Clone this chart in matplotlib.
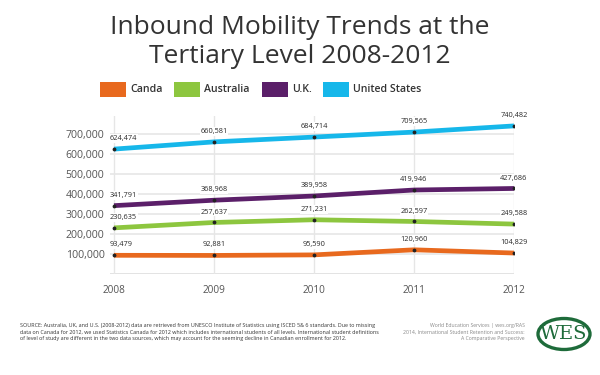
import matplotlib
matplotlib.use('Agg')
import matplotlib.pyplot as plt
from matplotlib.patches import Ellipse, Rectangle

years = [2008, 2009, 2010, 2011, 2012]
canada = [93479, 92881, 95590, 120960, 104829]
australia = [230635, 257637, 271231, 262597, 249588]
uk = [341791, 368968, 389958, 419946, 427686]
us = [624474, 660581, 684714, 709565, 740482]
series_names = ['Canda', 'Australia', 'U.K.', 'United States']
colors = ['#E8691E', '#8DC63F', '#5B1F69', '#16B7EA']
yticks = [100000, 200000, 300000, 400000, 500000, 600000, 700000]

plt.rcParams['font.family'] = ['Open Sans', 'DejaVu Sans']

fig = plt.figure(figsize=(6, 3.75), dpi=100)
fig.patch.set_facecolor('white')

W, H = 600.0, 375.0
ax = fig.add_axes([110/W, 1-274/H, (514-110)/W, (274-116)/H])
ax.set_xlim(2008 - 0.04, 2012)
ax.set_ylim(0, 790000)

for v in yticks:
    ax.axhline(v, color='#e6e6e6', lw=1.2, zorder=0)
ax.axhline(0, color='#e0e0e0', lw=2, zorder=0)
for yr in years:
    ax.axvline(yr, color='#e6e6e6', lw=1, zorder=0)

all_series = [canada, australia, uk, us]
for vals, c in zip(all_series, colors):
    ax.plot(years, vals, color=c, lw=3.4, solid_capstyle='butt', zorder=3)
    ax.scatter(years, vals, s=3, color='#222222', zorder=5)
    for i, (x, v) in enumerate(zip(years, vals)):
        ha = 'left' if i == 0 else 'center'
        dx = -3 if i == 0 else 0
        ax.annotate(f'{v:,}', (x, v), xytext=(dx, 5), textcoords='offset points',
                    ha=ha, va='bottom', fontsize=5.3, color='#2a2a2a', zorder=4,
                    bbox=dict(fc='white', ec='none', pad=0.6))

ax.set_yticks(yticks)
ax.set_yticklabels([f'{v:,}' for v in yticks], fontsize=7.6, color='#555555')
ax.set_xticks(years)
ax.set_xticklabels([str(y) for y in years], fontsize=7.2, color='#555555')
ax.tick_params(length=0)
ax.tick_params(axis='y', pad=4)
ax.tick_params(axis='x', pad=8)
for s in ax.spines.values():
    s.set_visible(False)
ax.patch.set_alpha(0)

# title
fig.text(0.5, 1-42/H, 'Inbound Mobility Trends at the\nTertiary Level 2008-2012',
         ha='center', va='center', fontsize=19, color='#333333', linespacing=1.2)

# legend
leg_x = [100, 174, 262, 323]
for x0, name, c in zip(leg_x, series_names, colors):
    fig.patches.append(Rectangle((x0/W, 1-97/H), 26/W, 15/H, transform=fig.transFigure,
                                 fc=c, ec='none'))
    fig.text((x0+30)/W, 1-90/H, name, ha='left', va='center', fontsize=7.6,
             fontweight='semibold', color='#333333')

# footer
src = ("SOURCE: Australia, UK, and U.S. (2008-2012) data are retrieved from UNESCO Institute of Statistics using ISCED 5& 6 standards. Due to missing\n"
       "data on Canada for 2012, we used Statistics Canada for 2012 which includes international students of all levels. International student definitions\n"
       "of level of study are different in the two data sources, which may account for the seeming decline in Canadian enrollment for 2012.")
fig.text(20/W, 1-332/H, src, ha='left', va='center', fontsize=3.9, color='#333333', linespacing=1.3)
credit = ("World Education Services | wes.org/RAS\n"
          "2014, International Student Retention and Success:\n"
          "A Comparative Perspective")
fig.text(525/W, 1-332/H, credit, ha='right', va='center', fontsize=3.7, color='#888888', linespacing=1.3)

fig.patches.append(Ellipse((564/W, 1-334/H), 52/W, 31/H, transform=fig.transFigure,
                           fc='white', ec='#1E6B3A', lw=2.4))
fig.text(564/W, 1-334/H, 'WES', ha='center', va='center', fontsize=14,
         family='DejaVu Serif', color='#1E6B3A')

fig.savefig('out.png', dpi=100)
